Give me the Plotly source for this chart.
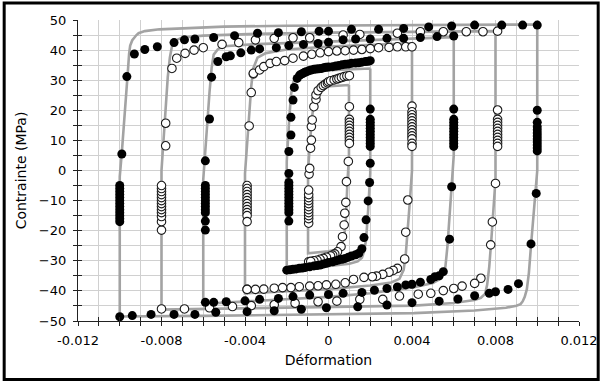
import plotly.graph_objects as go

# ---------------- model loops (gray lines) ----------------
g10_x = [0.0100, 0.0060, 0.0020, -0.0020, -0.0050, -0.0081, -0.0088, -0.0091, -0.0092, -0.0094, -0.0095, -0.00955,
         -0.0096, -0.0097, -0.0098, -0.0099, -0.0100, -0.0100,
         -0.0060, -0.0020, 0.0020, 0.0041, 0.0070, 0.0085, 0.0090, 0.0092, 0.0093, 0.0094, 0.0095,
         0.0096, 0.0097, 0.0098, 0.0099, 0.0100, 0.0100]
g10_y = [48.5, 48.4, 48.3, 48.1, 47.8, 46.9, 46.3, 45.6, 45.0, 43.3, 41.5, 38.9,
         34.0, 24.0, 14.0, 6.0, -2.0, -48.5,
         -48.3, -48.0, -47.7, -47.4, -46.5, -45.6, -44.9, -44.4, -43.5, -42.0, -39.5,
         -34.0, -25.0, -16.0, -8.0, 0.0, 48.5]

g8_x = [0.0080, 0.0040, 0.0000, -0.0034, -0.0060, -0.0070, -0.0073, -0.0075, -0.0076, -0.0077,
        -0.0078, -0.0079, -0.0080, -0.0080,
        -0.0060, -0.0020, 0.0020, 0.0041, 0.0060, 0.0070, 0.0073, 0.0075, 0.0076, 0.0077,
        0.0078, 0.0079, 0.0080, 0.0080]
g8_y = [46.3, 46.1, 45.8, 45.4, 44.8, 44.2, 43.3, 41.2, 37.5, 31.0,
        21.0, 10.0, 0.0, -46.2,
        -46.0, -45.6, -45.2, -44.9, -44.0, -43.0, -42.3, -41.0, -38.0, -32.0,
        -23.0, -13.0, -3.0, 46.3]

g6_x = [0.0060, 0.0040, 0.0000, -0.0034, -0.0050, -0.0053, -0.0055, -0.0056, -0.0057, -0.0058,
        -0.0059, -0.0060, -0.0060,
        -0.0040, -0.0020, 0.0000, 0.0020, 0.0041, 0.0050, 0.0054, 0.0056, 0.0057, 0.0058,
        0.0059, 0.0060, 0.0060]
g6_y = [44.3, 43.8, 43.0, 42.0, 41.3, 40.3, 38.5, 34.0, 26.0, 16.0,
        6.0, -3.0, -44.3,
        -43.6, -42.9, -42.0, -40.8, -38.8, -37.4, -35.8, -32.0, -25.0, -15.0,
        -5.0, 5.0, 44.3]

g4_x = [0.0040, 0.0020, 0.0000, -0.0020, -0.0030, -0.0034, -0.0036, -0.0037, -0.0038, -0.0039,
        -0.0040, -0.0040,
        -0.0020, 0.0000, 0.0020, 0.0030, 0.0034, 0.0036, 0.0037, 0.0038, 0.0039, 0.0040, 0.0040]
g4_y = [42.3, 41.8, 41.2, 40.2, 39.0, 37.5, 34.0, 28.0, 19.0, 9.0,
        -1.0, -40.8,
        -40.2, -39.4, -38.2, -37.2, -36.0, -33.0, -28.0, -20.0, -10.0, 0.0, 42.3]

g2_x = [0.0020, 0.0005, -0.0010, -0.0014, -0.0016, -0.0017, -0.0018, -0.0019, -0.0020, -0.0020,
        -0.0010, 0.0000, 0.0010, 0.0014, 0.0016, 0.0017, 0.0018, 0.0019, 0.0020, 0.0020]
g2_y = [33.9, 33.5, 33.0, 32.3, 31.0, 29.0, 25.0, 15.0, 3.0, -33.3,
        -32.6, -31.9, -31.0, -30.2, -29.0, -27.0, -23.0, -13.0, -1.0, 33.9]

g1_x = [0.00098, 0.0000, -0.0003, -0.0005, -0.0006, -0.0007, -0.0008, -0.0009, -0.00098, -0.00098,
        0.0000, 0.0005, 0.00065, 0.00075, 0.00083, 0.0009, 0.00098, 0.00098]
g1_y = [28.4, 28.1, 27.8, 26.8, 25.3, 22.5, 17.0, 8.0, 0.0, -27.5,
        -26.8, -26.1, -24.5, -22.0, -16.4, -5.0, 5.0, 28.4]

# ---------------- experimental points ----------------
# amplitude 0.010 (filled)
f10_x = [0.0100, 0.0093, 0.0083, 0.0070, 0.0059, 0.0048, 0.0036, 0.0024, 0.0011, 0.0000, -0.00045,
         -0.0013, -0.0024, -0.0034, -0.0045, -0.0055, -0.0064, -0.0069, -0.0074, -0.0082, -0.0088,
         -0.0093, -0.00966, -0.0099,
         -0.0100, -0.0100, -0.0100, -0.0100, -0.0100, -0.0100, -0.0100, -0.0100, -0.0100, -0.0100,
         -0.0100, -0.0100, -0.0100,
         -0.0100, -0.0094, -0.0085, -0.0074, -0.0064, -0.0054, -0.0039, -0.0026, -0.0013, -0.0001,
         0.0014, 0.0028, 0.0040, 0.0053, 0.0062, 0.0070, 0.0077, 0.0080, 0.0086, 0.0091, 0.0097,
         0.00995,
         0.0100, 0.0100, 0.0100, 0.0100, 0.0100, 0.0100, 0.0100, 0.0100, 0.0100, 0.0100, 0.0100]
f10_y = [48.3, 48.3, 48.3, 48.3, 48.0, 47.7, 47.2, 46.9, 46.9, 46.3, 46.3,
         46.1, 45.8, 45.6, 44.8, 44.2, 43.7, 43.4, 42.5, 41.1, 40.2,
         38.7, 31.2, 5.5,
         -5.0, -6.0, -7.0, -8.0, -9.0, -10.0, -11.0, -12.0, -13.0, -14.0,
         -15.0, -16.0, -17.0,
         -48.6, -48.2, -47.8, -47.8, -47.8, -47.1, -46.9, -46.6, -46.1, -45.6,
         -45.3, -44.7, -43.9, -43.4, -42.7, -41.6, -40.8, -40.3, -39.5, -37.6, -24.4,
         -7.6,
         6.5, 7.5, 8.5, 9.5, 10.5, 11.5, 12.5, 13.5, 14.5, 16.0, 20.0]

# amplitude 0.006 (filled)
f6_x = [-0.0056, -0.0053, -0.0049, -0.0047, -0.0042, -0.0037, -0.0033, -0.0025, -0.0019, -0.0012,
        -0.0005, 0.0000, 0.0007, 0.0013, 0.0020, 0.0028, 0.0036, 0.0044, 0.0052, 0.0060,
        0.0060, 0.0060, 0.0060, 0.0060, 0.0060, 0.0060, 0.0060, 0.0060, 0.0060, 0.0060, 0.0060,
        0.0059, 0.0058, 0.0055, 0.0053, 0.0051, 0.0049, 0.0044, 0.0040, 0.0037, 0.0033, 0.0028,
        0.0022, 0.0016, 0.0007, 0.0000, -0.0009, -0.0017, -0.0024, -0.0033, -0.0040, -0.0049,
        -0.0055, -0.0059,
        -0.0059, -0.0059, -0.0059, -0.0059, -0.0059, -0.0059, -0.0059, -0.0059, -0.0059, -0.0059,
        -0.0059, -0.0059, -0.0059, -0.0057]
f6_y = [31.0, 36.2, 37.8, 38.1, 39.1, 40.0, 40.4, 40.8, 41.5, 41.9,
        42.2, 42.6, 43.4, 43.7, 43.7, 43.9, 43.9, 44.2, 44.5, 44.7,
        20.4, 17.0, 16.0, 15.0, 14.0, 13.0, 12.0, 11.0, 10.0, 9.0, 8.0,
        -5.4, -22.8, -33.6, -35.0, -35.3, -36.2, -37.1, -37.8, -38.0, -38.7, -39.2,
        -39.8, -40.5, -40.8, -41.2, -41.4, -41.9, -42.5, -42.8, -43.3, -43.6,
        -43.8, -43.8,
        -19.8, -16.8, -14.0, -13.0, -12.0, -11.0, -10.0, -9.0, -8.0, -7.0,
        -6.0, -5.0, 3.2, 17.1]

# amplitude 0.002 (filled)
f2_x = [-0.0020, -0.0019, -0.0019, -0.0019, -0.0019, -0.0019, -0.0019, -0.0019, -0.0019, -0.0019,
        -0.0019, -0.0019, -0.0019, -0.0019, -0.0019, -0.0018, -0.0018, -0.0017, -0.00164,
        -0.0015, -0.00138, -0.0013, -0.00122, -0.00114, -0.00106, -0.00095, -0.00083, -0.0007,
        -0.00059, -0.00047, -0.00035, -0.00023, -0.00012, 0.0000, 0.0002, 0.00035, 0.0005, 0.00065,
        0.0008, 0.00095, 0.0011, 0.0013, 0.00145, 0.0016, 0.00177, 0.0019, 0.0020,
        0.0020, 0.0020, 0.0020, 0.0020, 0.0020, 0.0020, 0.0020, 0.0020, 0.0020, 0.0020, 0.0020,
        0.0020, 0.00197, 0.0019, 0.0018, 0.0017, 0.0016,
        0.00145, 0.0013, 0.0011, 0.00095, 0.0008, 0.00065, 0.0005, 0.00035, 0.0002, 0.0000,
        -0.0001, -0.00025, -0.0004, -0.00055, -0.0007, -0.0009, -0.0011, -0.00125, -0.0014,
        -0.00155, -0.0017, -0.00185]
f2_y = [-33.1, -16.8, -14.0, -13.0, -12.0, -11.0, -10.0, -9.0, -8.0, -7.0,
        -6.0, -5.0, -4.0, -1.0, 6.3, 11.8, 17.7, 23.4, 27.6,
        30.6, 31.7, 32.0, 32.3, 32.6, 32.8, 33.1, 33.4, 33.6,
        33.7, 33.8, 33.9, 34.1, 34.3, 34.4, 34.5, 34.7, 34.9, 35.1,
        35.3, 35.4, 35.6, 35.7, 35.8, 36.0, 36.2, 36.3, 36.5,
        20.4, 17.0, 16.0, 15.0, 14.0, 13.0, 12.0, 11.0, 10.0, 9.0, 8.0,
        2.4, -4.0, -10.1, -16.4, -22.3, -26.0,
        -27.5, -28.0, -28.4, -28.8, -29.2, -29.5, -29.7, -30.0, -30.3, -30.6,
        -30.8, -31.1, -31.4, -31.6, -31.7, -32.0, -32.2, -32.4, -32.5,
        -32.7, -32.8, -33.0]

# amplitude 0.008 (open)
o8_x = [-0.0075, -0.00727, -0.00687, -0.00644, -0.0060, -0.0051, -0.0043, -0.0035, -0.0026, -0.0017,
        -0.0009, 0.0007, 0.0015, 0.0033, 0.0044, 0.0055, 0.0066, 0.0074, 0.0081,
        0.0081, 0.0081, 0.0081, 0.0081, 0.0081, 0.0081, 0.0081, 0.0081, 0.0081, 0.0081, 0.0081,
        0.0080, 0.00785, 0.00777, 0.0073, 0.0070, 0.0064, 0.0060, 0.0055, 0.0049, 0.0043, 0.0034,
        0.0026, 0.0015, 0.0004, -0.0005, -0.0016, -0.0026, -0.0037, -0.0046, -0.0057, -0.0069,
        -0.0080,
        -0.0080, -0.0080, -0.0080, -0.0080, -0.0080, -0.0080, -0.0080, -0.0080, -0.0080, -0.0080,
        -0.0080, -0.0080, -0.0080, -0.0078, -0.0078]
o8_y = [33.9, 37.3, 38.9, 40.0, 40.8, 41.9, 42.5, 43.4, 43.9, 44.1,
        44.1, 45.0, 45.2, 45.6, 46.1, 46.1, 46.1, 46.1, 46.3,
        20.1, 17.0, 16.0, 15.0, 14.0, 13.0, 12.0, 11.0, 10.0, 9.0, 8.0,
        -4.3, -17.1, -24.7, -35.8, -37.5, -38.4, -39.2, -39.9, -40.8, -41.1, -41.7,
        -42.8, -42.8, -43.4, -43.6, -44.1, -44.6, -44.9, -45.2, -45.6, -46.0,
        -46.0,
        -19.8, -17.0, -15.3, -14.0, -13.0, -12.0, -11.0, -10.0, -9.0, -8.0,
        -7.0, -6.0, -5.0, 8.2, 15.7]

# amplitude 0.004 (open)
o4_x = [-0.0036, -0.0037, -0.0038,
        -0.0039, -0.0039, -0.0039, -0.0039, -0.0039, -0.0039, -0.0039, -0.0039, -0.0039, -0.0039,
        -0.0039, -0.0039, -0.0039,
        -0.0036, -0.0033, -0.0031, -0.0028, -0.0025, -0.0021, -0.0017, -0.0012, -0.0008, -0.0004,
        0.0000, 0.0004, 0.0008, 0.0012, 0.0016, 0.0020, 0.0024, 0.0029, 0.0033, 0.0037, 0.0040,
        0.0040, 0.0040, 0.0040, 0.0040, 0.0040, 0.0040, 0.0040, 0.0040, 0.0040, 0.0040, 0.0040,
        0.0040, 0.0040,
        0.0038, 0.0037, 0.00365, 0.0033, 0.0031, 0.0029, 0.0026, 0.0023, 0.0021, 0.0017, 0.0012,
        0.0008, 0.00035, -0.0001, -0.0005, -0.0009, -0.0014, -0.0018, -0.0022, -0.0026, -0.0031,
        -0.0035, -0.0039]
o4_y = [32.1, 25.9, 14.8,
        -5.0, -6.0, -7.0, -8.0, -9.0, -10.0, -11.0, -12.0, -13.0, -14.0,
        -15.0, -17.0, -39.5,
        32.3, 33.4, 34.5, 35.6, 36.2, 36.5, 37.3, 38.0, 38.6, 39.1,
        39.5, 39.7, 39.8, 40.0, 40.2, 40.5, 40.8, 40.9, 41.1, 41.1, 41.1,
        21.4, 19.5, 18.5, 17.5, 16.5, 15.5, 14.5, 13.5, 12.5, 11.5, 10.5,
        9.0, 8.0,
        -9.8, -20.5, -29.4, -32.5, -33.2, -33.8, -34.5, -35.1, -35.3, -35.5, -36.2,
        -37.3, -37.8, -38.0, -38.3, -38.4, -38.6, -38.9, -38.9, -39.1, -39.4,
        -39.5, -39.5]

# amplitude 0.001 (open)
o1_x = [-0.00095, -0.00095, -0.00095, -0.00095, -0.00095, -0.00095, -0.00095, -0.00095, -0.00095,
        -0.00095, -0.00095, -0.00095, -0.00093, -0.0009, -0.00086, -0.00082, -0.00082, -0.00078,
        -0.0007, -0.0006, -0.0006, -0.0005, -0.00035, -0.00025, -0.00015, -0.00005, 0.0000, 0.0001,
        0.00027, 0.0004, 0.0005, 0.00062, 0.00075, 0.00088, 0.0010,
        0.0010, 0.0010, 0.0010, 0.0010, 0.0010, 0.0010, 0.0010, 0.0010, 0.0010, 0.0010,
        0.00095, 0.00086, 0.00083, 0.00078, 0.00075, 0.00067, 0.0006, 0.00043,
        0.0003, 0.0002, 0.0001, -0.0001, -0.00025, -0.0004, -0.00055, -0.0007, -0.00085]
o1_y = [-30.3, -17.5, -16.0, -15.0, -14.0, -13.0, -12.0, -11.0, -10.0,
        -9.0, -8.0, -6.5, -1.2, 0.7, 7.4, 10.1, 14.6, 16.8,
        21.2, 23.6, 25.1, 26.5, 27.6, 28.2, 28.7, 29.1, 29.5, 29.8,
        30.1, 30.4, 30.6, 30.9, 31.2, 31.4, 31.5,
        21.2, 17.0, 16.0, 15.0, 14.0, 13.0, 12.0, 11.0, 10.0, 9.0,
        3.0, -3.7, -10.6, -14.2, -18.1, -22.0, -25.3, -27.0,
        -27.7, -28.1, -28.4, -28.8, -29.2, -29.5, -29.8, -30.0, -30.2]

# axis ticks
x_tickvals = [-0.012, -0.008, -0.004, 0.0, 0.004, 0.008, 0.012]
x_ticktext = ["-0.012", "-0.008", "-0.004", "0", "0.004", "0.008", "0.012"]
y_tickvals = [-50, -40, -30, -20, -10, 0, 10, 20, 30, 40, 50]

GRAY = "#a3a3a3"
GRID = "#d0d0d0"
FONT = "DejaVu Sans"

fig = go.Figure()

for gx, gy in [(g10_x, g10_y), (g8_x, g8_y), (g6_x, g6_y), (g4_x, g4_y), (g2_x, g2_y), (g1_x, g1_y)]:
    fig.add_trace(go.Scatter(x=gx, y=gy, mode="lines", line=dict(color=GRAY, width=2.6),
                             hoverinfo="skip", showlegend=False))

open_marker = dict(symbol="circle", size=8.5, color="white", line=dict(color="#1a1a1a", width=1.1))
filled_marker = dict(symbol="circle", size=9, color="black", line=dict(color="black", width=0))

for ox, oy in [(o8_x, o8_y), (o4_x, o4_y), (o1_x, o1_y)]:
    fig.add_trace(go.Scatter(x=ox, y=oy, mode="markers", marker=open_marker, showlegend=False))
for fx, fy in [(f10_x, f10_y), (f6_x, f6_y), (f2_x, f2_y)]:
    fig.add_trace(go.Scatter(x=fx, y=fy, mode="markers", marker=filled_marker, showlegend=False))

# dummy trace for the overlay axes (inside halves of crossing ticks)
fig.add_trace(go.Scatter(x=[], y=[], xaxis="x2", yaxis="y2", showlegend=False))

fig.update_layout(
    width=610, height=383,
    margin=dict(l=78, r=23, t=20, b=62),
    paper_bgcolor="white", plot_bgcolor="white",
    font=dict(family=FONT, size=13, color="black"),
    xaxis=dict(range=[-0.012, 0.012], tickmode="array", tickvals=x_tickvals, ticktext=x_ticktext,
               showgrid=True, gridcolor=GRID, gridwidth=1, zeroline=False,
               showline=True, linecolor="#222", linewidth=1.3,
               ticks="outside", ticklen=4, tickcolor="#222", tickwidth=1.2,
               minor=dict(dtick=0.001, tick0=0, showgrid=True, gridcolor=GRID, gridwidth=1,
                          ticks="outside", ticklen=4, tickcolor="#222", tickwidth=1.2),
               tickfont=dict(size=13), ticklabelstandoff=3,
               title=dict(text="Déformation", font=dict(size=14), standoff=8)),
    yaxis=dict(range=[-50, 50], tickmode="array", tickvals=y_tickvals,
               showgrid=True, gridcolor=GRID, gridwidth=1, zeroline=False,
               showline=True, linecolor="#222", linewidth=1.3,
               ticks="outside", ticklen=4, tickcolor="#222", tickwidth=1.2,
               minor=dict(dtick=5, tick0=0, showgrid=True, gridcolor=GRID, gridwidth=1,
                          ticks="outside", ticklen=4, tickcolor="#222", tickwidth=1.2),
               tickfont=dict(size=13), ticklabelstandoff=4,
               title=dict(text="Contrainte (MPa)", font=dict(size=14), standoff=8)),
    xaxis2=dict(range=[-0.012, 0.012], overlaying="x", anchor="y2", side="bottom",
                showticklabels=False, showgrid=False, zeroline=False, showline=False,
                tickmode="linear", tick0=0, dtick=0.001,
                ticks="inside", ticklen=4, tickcolor="#222", tickwidth=1.2),
    yaxis2=dict(range=[-50, 50], overlaying="y", anchor="x2", side="left",
                showticklabels=False, showgrid=False, zeroline=False, showline=False,
                tickmode="linear", tick0=0, dtick=5,
                ticks="inside", ticklen=4, tickcolor="#222", tickwidth=1.2),
    shapes=[dict(type="rect", xref="paper", yref="paper",
                 x0=(3 - 78) / 509, x1=(606.5 - 78) / 509,
                 y0=(321 - 379.5) / 301, y1=(321 - 3) / 301,
                 line=dict(color="black", width=3), fillcolor="rgba(0,0,0,0)", layer="above")],
)

fig.write_html("out.html", config={"displayModeBar": False},
               post_script="document.body.style.margin='0';document.body.style.overflow='hidden';")
